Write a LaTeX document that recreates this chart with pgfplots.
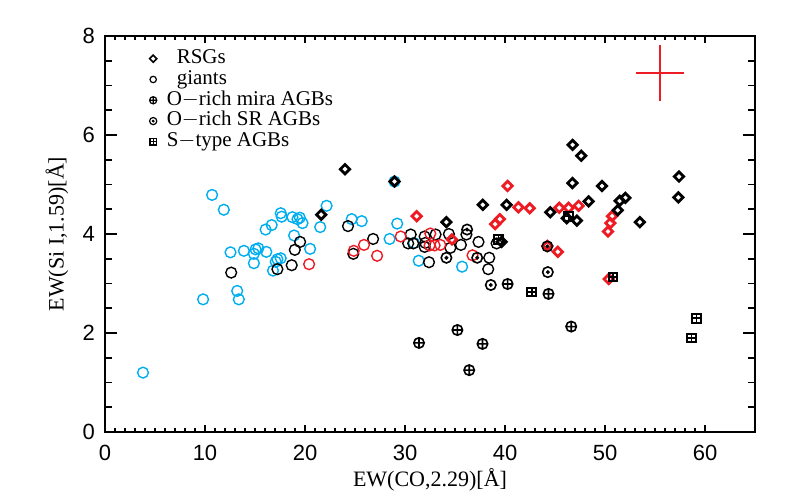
\documentclass[border=0pt]{standalone}
\usepackage{fontspec}
\setmainfont{Liberation Serif}
\newfontfamily\tickfont{Liberation Sans}
\usepackage{pgfplots}
\pgfplotsset{compat=1.18}
\usepackage{pgfplotstable}
\usetikzlibrary{plotmarks}

\definecolor{gcyan}{RGB}{0,174,239}
\definecolor{gred}{RGB}{237,28,36}

% giants
\pgfplotstableread{
x y
3.8 1.20
10.71 4.79
11.88 4.49
12.55 3.63
13.22 2.85
9.81 2.68
13.38 2.68
13.89 3.66
14.89 3.60
15.06 3.69
15.33 3.71
14.89 3.41
16.13 3.64
16.06 4.09
16.67 4.18
17.57 4.42
17.67 4.35
18.74 4.34
19.25 4.30
19.48 4.33
19.75 4.22
18.91 3.97
20.51 3.70
21.52 4.14
22.16 4.57
17.24 3.49
17.07 3.44
17.57 3.51
16.80 3.26
24.67 4.30
25.67 4.26
28.95 5.06
29.22 4.21
28.46 3.90
30.89 3.82
31.37 3.46
35.71 3.34
}\giantscyan

\pgfplotstableread{
x y
12.62 3.22
17.24 3.29
18.67 3.37
18.98 3.68
19.51 3.84
24.30 4.16
24.83 3.60
26.81 3.90
30.57 3.99
30.32 3.81
30.82 3.81
32.40 3.43
31.96 3.95
32.03 3.82
31.96 3.74
33.06 3.99
34.39 4.00
34.54 3.72
35.59 3.78
36.14 3.99
37.35 3.84
38.42 3.52
38.32 3.29
39.16 3.81
}\giantsblack

\pgfplotstableread{
x y
20.41 3.39
24.87 3.66
25.90 3.78
27.21 3.56
29.57 3.95
32.53 4.01
32.46 3.77
32.96 3.77
33.53 3.78
36.75 3.57
}\giantsred

% RSGs
\pgfplotstableread{
x y
31.17 4.36
34.69 3.89
40.26 4.97
41.34 4.54
42.47 4.52
39.01 4.20
39.49 4.30
45.43 4.53
46.36 4.53
47.36 4.57
50.70 4.36
50.53 4.22
50.30 4.05
45.28 3.64
50.37 3.09
44.23 3.76
}\rsgred

\pgfplotstableread{
x y
24.00 5.31
21.62 4.39
28.95 5.06
34.14 4.24
37.78 4.59
40.16 4.59
44.53 4.44
46.18 4.32
47.19 4.27
46.74 5.03
46.76 5.80
47.62 5.58
49.70 4.97
48.36 4.66
51.47 4.67
52.04 4.73
51.27 4.48
53.48 4.24
57.40 5.16
57.33 4.74
39.66 3.84
}\rsgblack

% AGBs
\pgfplotstableread{
x y
40.26 2.99
44.35 2.79
46.62 2.13
35.24 2.06
31.40 1.80
37.75 1.78
36.42 1.25
}\mira

\pgfplotstableread{
x y
34.14 3.52
36.21 4.09
37.22 3.52
38.58 2.97
44.23 3.75
44.28 3.23
}\sr

\pgfplotstableread{
x y
39.33 3.89
46.36 4.35
42.67 2.83
50.80 3.13
59.14 2.30
58.63 1.90
}\stype

\begin{document}
\begin{tikzpicture}
\useasboundingbox (-52.5pt,-34pt) rectangle (340.5pt,216pt);
\begin{axis}[
  scale only axis,
  width=325pt, height=198pt,
  at={(0,0)}, anchor=south west,
  xmin=0, xmax=65, ymin=0, ymax=8,
  xtick={0,10,...,60}, ytick={0,2,...,8},
  minor x tick num=9, minor y tick num=3,
  tick align=inside, tick pos=both,
  axis line style={line width=1.2pt},
  major tick style={line width=1.1pt, black},
  minor tick style={line width=0.9pt, black},
  xtick style={/pgfplots/major tick length=3.6pt, /pgfplots/minor tick length=1.9pt},
  ytick style={/pgfplots/major tick length=6pt, /pgfplots/minor tick length=3.5pt},
  /pgf/number format/assume math mode=true,
  tick label style={font=\tickfont\fontsize{11}{12}\selectfont},
  xticklabel style={yshift=-3pt},
  yticklabel style={xshift=-1.5pt},
  label style={font=\fontsize{11}{13}\selectfont},
  xlabel={EW(CO,2.29)[Å]},
  ylabel={EW(Si I,1.59)[Å]},
  xlabel style={at={(axis description cs:0.5,-0.121)}, anchor=center},
  ylabel style={at={(axis description cs:-0.074,0.5)}, anchor=center},
  legend style={draw=none, fill=none, at={(axis description cs:0.068,0.968)}, anchor=north west,
    font=\fontsize{10.5}{11}\selectfont, row sep=0.8pt, inner sep=0pt,
    nodes={inner ysep=0pt, inner xsep=2pt, text height=7.2pt, text depth=2.4pt}},
  legend cell align=left,
  legend image code/.code={\draw[#1] plot coordinates {(0.2cm,0cm)};},
]
% legend entries (black symbols)
\addlegendimage{only marks, black, mark=square, mark size=1.25pt, mark options={rotate=45, line width=0.8pt}}
\addlegendentry{\hspace{8pt}RSGs}
\addlegendimage{only marks, black, mark=o, mark size=1.6pt, mark options={line width=0.6pt}}
\addlegendentry{\hspace{8pt}giants}
\addlegendimage{only marks, black, mark=oplus, mark size=1.8pt, mark options={line width=0.6pt}}
\addlegendentry{\hspace{3pt}O$-$rich mira AGBs}
\addlegendimage{legend image code/.code={
  \draw[black, only marks, mark=o, mark size=1.8pt, mark options={line width=0.6pt}] plot coordinates {(0.2cm,0cm)};
  \draw[black, only marks, mark=*, mark size=0.5pt] plot coordinates {(0.2cm,0cm)};}}
\addlegendentry{\hspace{3pt}O$-$rich SR AGBs}
\addlegendimage{legend image code/.code={
  \draw[black, only marks, mark=square, mark size=1.6pt, mark options={line width=0.6pt}] plot coordinates {(0.2cm,0cm)};
  \draw[black, only marks, mark=+, mark size=1.6pt, mark options={line width=0.6pt}] plot coordinates {(0.2cm,0cm)};}}
\addlegendentry{\hspace{3pt}S$-$type AGBs}

% giants
\addplot[forget plot, only marks, gcyan, mark=o, mark size=2.7pt, mark options={line width=0.7pt}] table {\giantscyan};
\addplot[forget plot, only marks, black, mark=o, mark size=2.7pt, mark options={line width=0.7pt}] table {\giantsblack};
\addplot[forget plot, only marks, gred, mark=o, mark size=2.7pt, mark options={line width=0.7pt}] table {\giantsred};
% RSGs
\addplot[forget plot, only marks, gred, mark=square, mark size=1.65pt, mark options={rotate=45, line width=1.4pt}] table {\rsgred};
\addplot[forget plot, only marks, black, mark=square, mark size=1.65pt, mark options={rotate=45, line width=1.4pt}] table {\rsgblack};
% mira AGBs
\addplot[forget plot, only marks, black, mark=oplus, mark size=2.6pt, mark options={line width=0.8pt}] table {\mira};
% SR AGBs
\addplot[forget plot, only marks, black, mark=o, mark size=2.6pt, mark options={line width=0.8pt}] table {\sr};
\addplot[forget plot, only marks, black, mark=*, mark size=0.8pt] table {\sr};
% S-type AGBs
\addplot[forget plot, only marks, black, mark=square, mark size=2.2pt, mark options={line width=1pt}] table {\stype};
\addplot[forget plot, only marks, black, mark=+, mark size=2.2pt, mark options={line width=0.8pt}] table {\stype};
% typical error
\addplot[forget plot, draw=none, mark=none,
  error bars/.cd, x dir=both, y dir=both, x explicit, y explicit, error mark=none,
  error bar style={line width=1pt, draw=gred, solid}]
  coordinates {(55.5,7.25) +- (2.4,0.57)};
\end{axis}
\end{tikzpicture}
\end{document}
